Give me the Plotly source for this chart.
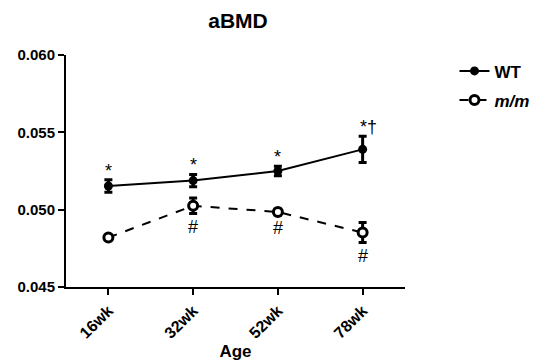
import plotly.graph_objects as go

ages = ["16wk", "32wk", "52wk", "78wk"]
wt_mean = [0.05153, 0.05188, 0.05250, 0.05390]
wt_err = [0.00040, 0.00040, 0.00030, 0.00085]
mm_mean = [0.04820, 0.05025, 0.04985, 0.04852]
mm_err = [0.00012, 0.00050, 0.00020, 0.00065]
wt_marks = ["*", "*", "*", "*†"]
mm_marks = ["", "#", "#", "#"]
y_ticks = [0.045, 0.050, 0.055, 0.060]

FONT = "Liberation Sans, Arial, sans-serif"

# page body adds an 8px margin; compensate so the plot lands where the reference has it
W, H = 539, 354
ML, MT, MR, MB = 58, 47, 132, 75

fig = go.Figure()
fig.add_trace(go.Scatter(
    x=ages, y=wt_mean, name="WT", mode="lines+markers", legendgroup="wt",
    line=dict(color="black", width=2),
    marker=dict(symbol="circle", size=9, color="black"),
    error_y=dict(type="data", array=wt_err, color="black", thickness=3, width=4),
))
fig.add_trace(go.Scatter(
    x=ages, y=mm_mean, name="<i>m/m</i>", mode="lines+markers", legendgroup="mm",
    line=dict(color="black", width=2, dash="dash"),
    marker=dict(symbol="circle", size=9, color="white", line=dict(color="black", width=3)),
    error_y=dict(type="data", array=mm_err, color="black", thickness=3, width=4),
))

for a, m, e, t in zip(ages, wt_mean, wt_err, wt_marks):
    if t:
        fig.add_annotation(x=a, y=m + e, text=t, showarrow=False, yanchor="bottom",
                           xanchor="center", xshift=(6 if len(t) > 1 else 0), yshift=-3,
                           font=dict(family=FONT, size=18, color="black"))
for a, m, e, t in zip(ages, mm_mean, mm_err, mm_marks):
    if t:
        fig.add_annotation(x=a, y=m - e, text=t, showarrow=False, yanchor="top",
                           xanchor="center", yshift=-1,
                           font=dict(family=FONT, size=18, color="black"))

fig.update_layout(
    width=W, height=H,
    margin=dict(l=ML, r=MR, t=MT, b=MB),
    paper_bgcolor="white", plot_bgcolor="white",
    font=dict(family=FONT, color="black"),
    title=dict(text="<b>aBMD</b>", x=230 / W, xanchor="center",
               y=1 - 13 / H, yanchor="middle",
               font=dict(size=21, family=FONT, color="black")),
    showlegend=True,
    legend=dict(x=1.146, y=1.007, xanchor="left", yanchor="top",
                font=dict(family=FONT, size=17, weight="bold", color="black"),
                bgcolor="rgba(0,0,0,0)", itemwidth=30, tracegroupgap=4),
)
fig.update_xaxes(
    range=[-0.5, 3.5], showgrid=False, zeroline=False, automargin=False,
    showline=True, linecolor="black", linewidth=2,
    ticks="outside", tickcolor="black", tickwidth=2, ticklen=6,
    tickangle=-45, tickfont=dict(family=FONT, size=16, weight="bold", color="black"),
    title=dict(text="<b>Age</b>", font=dict(family=FONT, size=17, color="black"), standoff=4),
)
fig.update_yaxes(
    range=[0.045, 0.060], tickvals=y_ticks, tickformat=".3f", automargin=False,
    showgrid=False, zeroline=False,
    showline=True, linecolor="black", linewidth=2,
    ticks="outside", tickcolor="black", tickwidth=2, ticklen=6,
    tickfont=dict(family=FONT, size=15, weight="bold", color="black"),
)

fig.write_html("out.html")
